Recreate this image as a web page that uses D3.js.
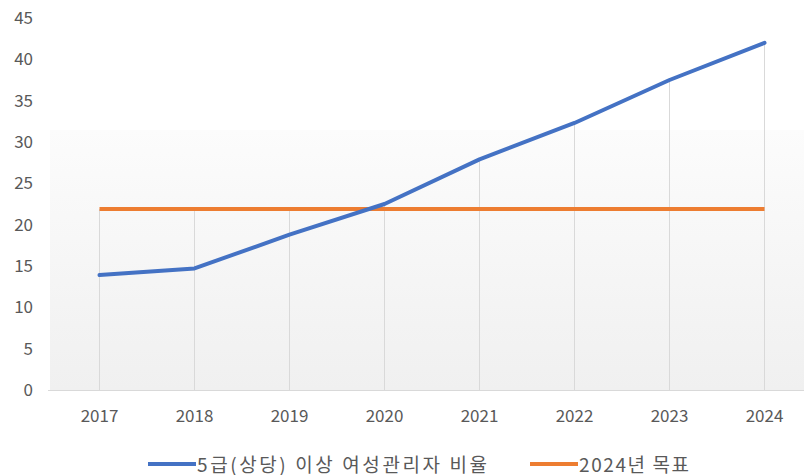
<!DOCTYPE html>
<html>
<head>
<meta charset="utf-8">
<script src="https://cdn.jsdelivr.net/npm/d3@7"></script>
<style>
  body { margin: 0; background: #fff; }
  text { font-family: "Noto Sans CJK KR", "Noto Sans", sans-serif; fill: #595959; }
</style>
</head>
<body>
<div class="canvas"></div>
<script>
// data
const years = ['2017', '2018', '2019', '2020', '2021', '2022', '2023', '2024']
const ratio = [13.9, 14.7, 18.8, 22.5, 27.9, 32.3, 37.5, 42.0]
const target = [21.9, 21.9, 21.9, 21.9, 21.9, 21.9, 21.9, 21.9]
const yTicks = [0, 5, 10, 15, 20, 25, 30, 35, 40, 45]
const seriesNames = ['5급(상당) 이상 여성관리자 비율', '2024년 목표']

const svg = d3.select('.canvas')
              .append('svg')
              .attr('width', 804)
              .attr('height', 475)

const plotLeft = 52, plotRight = 812, plotTop = 18, plotBottom = 390

const x = d3.scaleBand().domain(years).range([plotLeft, plotRight])
const y = d3.scaleLinear().domain([0, 45]).range([plotBottom, plotTop])

// plot background gradient
const grad = svg.append('defs').append('linearGradient')
  .attr('id', 'bg').attr('x1', 0).attr('y1', 0).attr('x2', 0).attr('y2', 1)
grad.append('stop').attr('offset', '0%').attr('stop-color', '#fcfcfc')
grad.append('stop').attr('offset', '100%').attr('stop-color', '#f0f0f0')

svg.append('rect')
   .attr('x', 50).attr('y', 130)
   .attr('width', 754).attr('height', plotBottom - 130)
   .attr('fill', 'url(#bg)')

// y axis labels
const yAxis = svg.append('g')
  .attr('transform', 'translate(33,0)')
  .call(d3.axisLeft(y).tickValues(yTicks).tickSize(0).tickPadding(0))
yAxis.select('.domain').remove()
yAxis.selectAll('text').attr('font-size', 17).attr('fill', '#595959')

// drop lines
const cx = d => x(d) + x.bandwidth() / 2
svg.append('g').selectAll('line')
   .data(years)
   .enter()
   .append('line')
   .attr('x1', cx).attr('x2', cx)
   .attr('y1', (d, i) => y(Math.max(ratio[i], target[i])))
   .attr('y2', plotBottom)
   .attr('stroke', '#d9d9d9')
   .attr('stroke-width', 1)

// baseline + x labels
const xAxis = svg.append('g')
  .attr('transform', `translate(0,${plotBottom})`)
  .call(d3.axisBottom(x).tickSize(0).tickPadding(20))
xAxis.select('.domain').attr('stroke', '#d9d9d9').attr('d', 'M48,0.5H804')
xAxis.selectAll('text').attr('font-size', 17).attr('fill', '#595959')

// lines
const line = d3.line().x((d, i) => cx(years[i])).y(d => y(d))

svg.append('path')
   .datum(target)
   .attr('d', line)
   .attr('fill', 'none')
   .attr('stroke', '#ed7d31')
   .attr('stroke-width', 4)

svg.append('path')
   .datum(ratio)
   .attr('d', line)
   .attr('fill', 'none')
   .attr('stroke', '#4472c4')
   .attr('stroke-width', 4)
   .attr('stroke-linejoin', 'round')
   .attr('stroke-linecap', 'round')

// legend
const legend = [
  {name: seriesNames[0], color: '#4472c4', x: 148, w: 290},
  {name: seriesNames[1], color: '#ed7d31', x: 530, w: 110}
]
const lg = svg.append('g').selectAll('g')
  .data(legend)
  .enter()
  .append('g')
  .attr('transform', d => `translate(${d.x},464)`)
lg.append('line')
  .attr('x1', 0).attr('x2', 48)
  .attr('stroke', d => d.color)
  .attr('stroke-width', 4)
lg.append('text')
  .attr('x', 49).attr('y', 7.5)
  .attr('font-size', 19)
  .attr('textLength', d => d.w)
  .attr('lengthAdjust', 'spacing')
  .attr('fill', '#595959')
  .text(d => d.name)
</script>
</body>
</html>
